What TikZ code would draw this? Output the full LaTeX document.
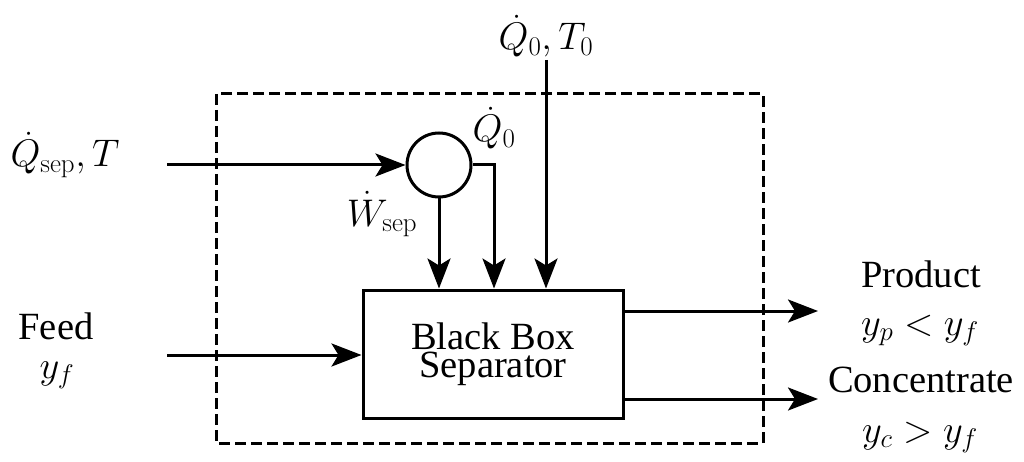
\RequirePackage{fix-cm}
\documentclass[tikz,border=0pt]{standalone}
\usepackage[no-math]{fontspec}
\setmainfont{Liberation Serif}
\usetikzlibrary{arrows.meta}
\begin{document}
\begin{tikzpicture}[x=1pt,y=-1pt,
  line width=3pt,
  arr/.style={-{Stealth[length=30pt,width=23pt,inset=7pt]}},
  lbl/.style={inner sep=0pt,anchor=base,font=\fontsize{38.5}{46}\selectfont},
  dashbox/.style={dash pattern=on 11pt off 5pt}]
\useasboundingbox (0,0) rectangle (1024,462);
\draw[dashbox] (216,94) rectangle (763,443);
\node[draw,minimum width=260pt,minimum height=128pt,inner sep=0pt,align=center,
  font=\fontsize{38.5}{28}\selectfont] (bb) at (493,354) {Black Box\\Separator};
\node[draw,circle,minimum size=64pt,inner sep=0pt] (c) at (439,165) {};
\coordinate (qin) at (167,165);
\coordinate (q0in) at (494,290);
\coordinate (t0) at (546,60);
\coordinate (fin) at (167,355);
\coordinate (pout) at (818,311);
\coordinate (cout) at (818,399);
\draw[arr] (qin) -- (c.west);
\draw[arr] (c.south) -- (c.south |- bb.north);
\draw[arr] (c.east) -| (q0in |- bb.north);
\draw[arr] (t0) -- (t0 |- bb.north);
\draw[arr] (fin) -- (fin -| bb.west);
\draw[arr] (bb.east |- pout) -- (pout);
\draw[arr] (bb.east |- cout) -- (cout);
\node[lbl] (lq0t0) at (546,50) {$\dot Q_0, T_0$};
\node[lbl] (lq0) at (494,142) {$\dot Q_0$};
\node[lbl] (lw) at (382,226) {$\dot W_{\mathrm{sep}}$};
\node[lbl] (lqs) at (65,167) {$\dot Q_{\mathrm{sep}}, T$};
\node[lbl] (lfeed) at (56,339) {Feed};
\node[lbl] (lyf) at (57,378) {$y_f$};
\node[lbl] (lprod) at (921,287) {Product};
\node[lbl] (lyp) at (920,335) {$y_p < y_f$};
\node[lbl] (lconc) at (921,392) {Concentrate};
\node[lbl] (lyc) at (920,442) {$y_c > y_f$};
\end{tikzpicture}
\end{document}
